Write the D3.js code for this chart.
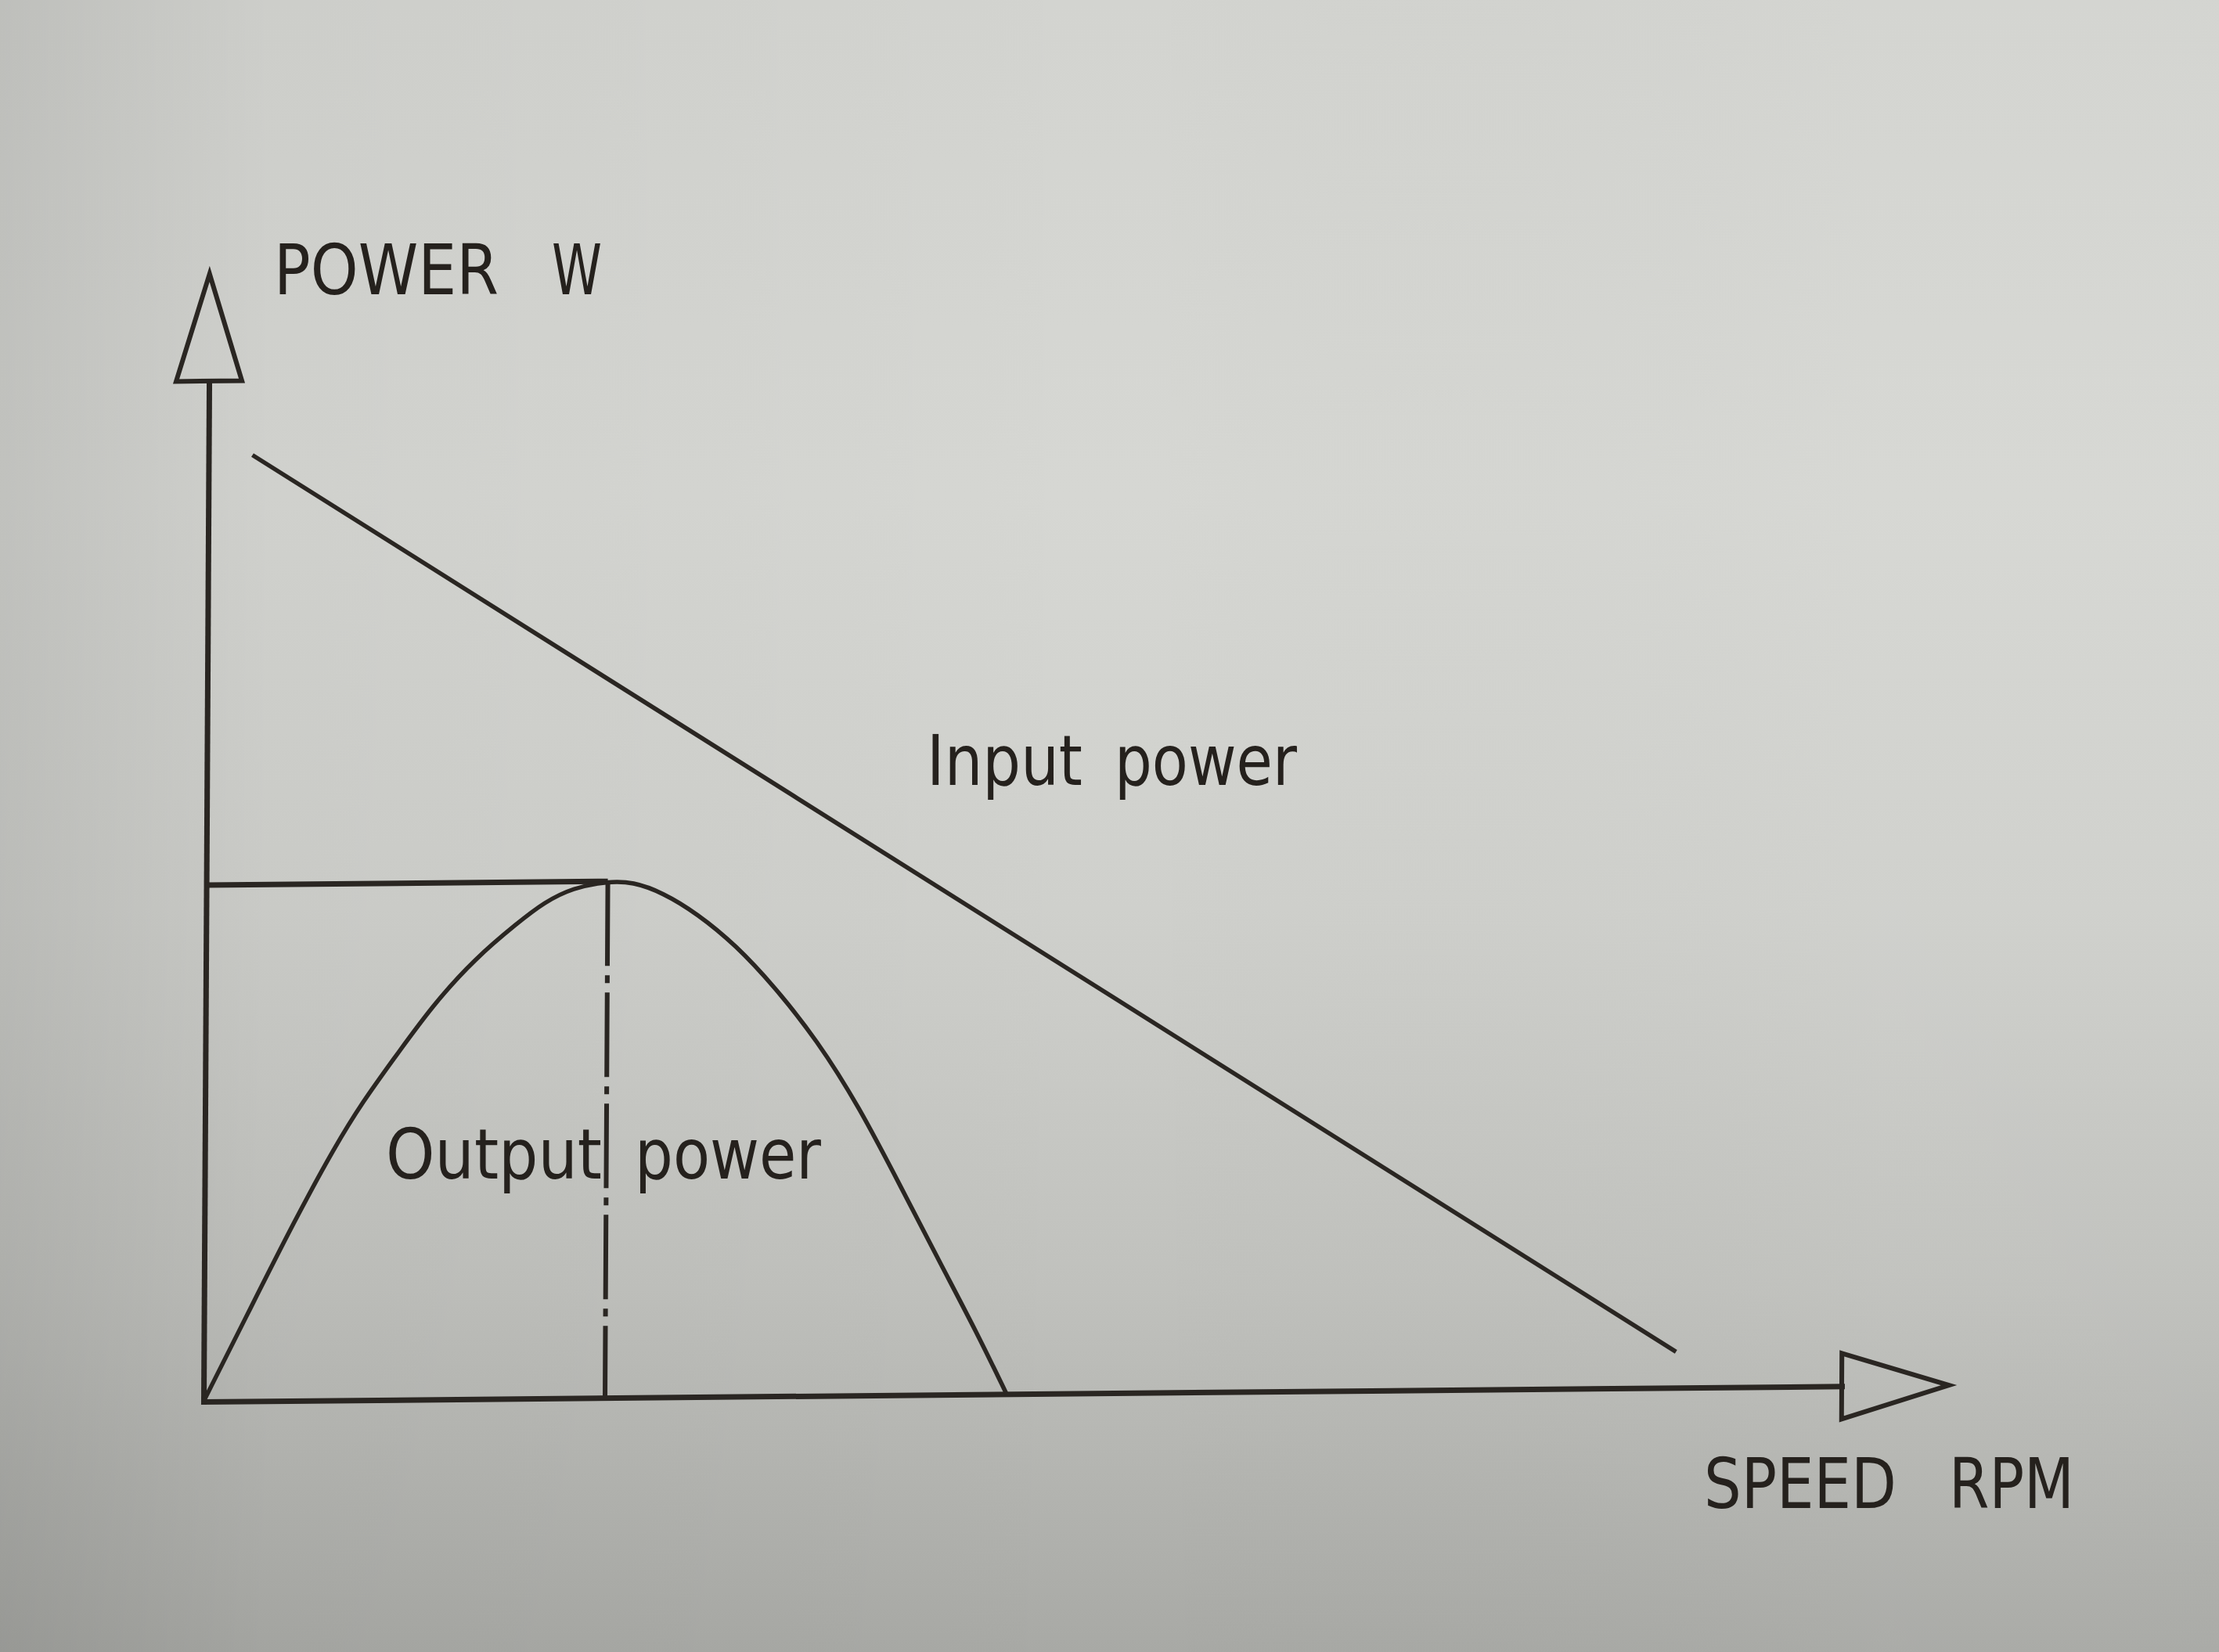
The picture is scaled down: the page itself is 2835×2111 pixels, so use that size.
<!DOCTYPE html>
<html>
<head>
<meta charset="utf-8">
<script src="https://cdn.jsdelivr.net/npm/d3@7"></script>
<style>
  html, body { margin: 0; padding: 0; overflow: hidden; background: #c8c9c5; }
  svg { display: block; }
</style>
</head>
<body>
<div id="chart"></div>
<script>
// ---------------- DATA (arbitrary units) ----------------
const outputSpeed = [0, 3.0, 5.7, 8.35, 10.1, 11.9, 14.55, 17.2, 19.9, 21.6, 23.4, 25.65, 27.25, 29.15, 31.35, 33.85, 36.35, 39.05, 41.75, 44.5, 47.15, 49.35, 51.3];
const outputPower = [0, 12.0, 22.8, 32.6, 38.2, 43.2, 50.5, 56.3, 60.8, 63.4, 65.2, 66.0, 65.9, 64.5, 61.8, 57.7, 52.3, 45.5, 37.0, 26.5, 16.3, 8.0, 0];
const inputSpeed  = [2.8, 94.05];
const inputPower  = [120.9, 4.6];
const peakSpeed   = [25.65];
const peakPower   = [66.0];
const axisEnds    = [104.65, 130.4];           // [speed axis end, power axis end]
const axisTitles  = ["POWER W", "SPEED RPM"];
const seriesNames = ["Input power", "Output power"];

// ---------------- SETUP ----------------
const W = 2835, H = 2111;
const ink = "#2a2622";
const svg = d3.select("#chart").append("svg").attr("width", W).attr("height", H);

// background (photographed paper)
const defs = svg.append("defs");
const gv = defs.append("linearGradient").attr("id", "bgv").attr("x1", 0).attr("y1", 0).attr("x2", 0).attr("y2", 1);
[[0, "#d3d4d0"], [0.3, "#d6d7d3"], [0.55, "#cfd0cc"], [0.78, "#c0c1bd"], [1, "#a8a9a5"]]
  .forEach(([o, c]) => gv.append("stop").attr("offset", o).attr("stop-color", c));
const gh = defs.append("linearGradient").attr("id", "bgh").attr("x1", 0).attr("y1", 0).attr("x2", 1).attr("y2", 0);
[[0, "#000", 0.10], [0.12, "#000", 0.03], [0.5, "#000", 0], [0.85, "#fff", 0.03], [1, "#fff", 0.02]]
  .forEach(([o, c, a]) => gh.append("stop").attr("offset", o).attr("stop-color", c).attr("stop-opacity", a));
svg.append("rect").attr("width", W).attr("height", H).attr("fill", "url(#bgv)");
svg.append("rect").attr("width", W).attr("height", H).attr("fill", "url(#bgh)");

// plot group: slight perspective of the photograph
const g = svg.append("g").attr("transform", "matrix(1,-0.0094,-0.0054,1,260,1791)");

const x = d3.scaleLinear().domain([0, 100]).range([0, 2000]);
const y = d3.scaleLinear().domain([0, 100]).range([0, -1000]);

// axes (domain lines only)
const xAxisScale = x.copy().domain([0, axisEnds[0]]).range([0, x(axisEnds[0])]);
const yAxisScale = y.copy().domain([0, axisEnds[1]]).range([0, y(axisEnds[1])]);
const axX = g.append("g").call(d3.axisBottom(xAxisScale).tickValues([]).tickSizeOuter(0));
const axY = g.append("g").call(d3.axisLeft(yAxisScale).tickValues([]).tickSizeOuter(0));
[axX, axY].forEach(a => {
  a.select(".domain").attr("stroke", ink).attr("stroke-width", 7).attr("stroke-linecap", "square");
  a.attr("font-size", null).attr("font-family", null);
});

// arrow heads (open triangles)
const arrowLen = 137, arrowHalf = 42;
g.append("path")
  .attr("d", `M${x(axisEnds[0])},${-arrowHalf}L${x(axisEnds[0]) + arrowLen},0L${x(axisEnds[0])},${arrowHalf}Z`)
  .attr("fill", "none").attr("stroke", ink).attr("stroke-width", 6).attr("stroke-linejoin", "miter");
g.append("path")
  .attr("d", `M${-arrowHalf},${y(axisEnds[1])}L0,${y(axisEnds[1]) - arrowLen}L${arrowHalf},${y(axisEnds[1])}Z`)
  .attr("fill", "none").attr("stroke", ink).attr("stroke-width", 6).attr("stroke-linejoin", "miter");

// input power line
const line = d3.line().x(d => x(d[0])).y(d => y(d[1]));
g.append("path")
  .attr("d", line(d3.zip(inputSpeed, inputPower)))
  .attr("fill", "none").attr("stroke", ink).attr("stroke-width", 5.5);

// output power curve
const curve = d3.line().x(d => x(d[0])).y(d => y(d[1])).curve(d3.curveBasis);
g.append("path")
  .attr("d", curve(d3.zip(outputSpeed, outputPower)))
  .attr("fill", "none").attr("stroke", ink).attr("stroke-width", 5.5);

// peak reference lines
g.append("path")
  .attr("d", line([[0, peakPower[0]], [peakSpeed[0], peakPower[0]]]))
  .attr("fill", "none").attr("stroke", ink).attr("stroke-width", 7);
g.append("path")
  .attr("d", line([[peakSpeed[0], peakPower[0]], [peakSpeed[0], 0]]))
  .attr("fill", "none").attr("stroke", ink).attr("stroke-width", 6)
  .attr("stroke-dasharray", "108 12 10 12");

// ---------------- TEXT ----------------
const font = "'DejaVu Sans', 'Liberation Sans', sans-serif";
function label(parts, baseline) {
  const t = svg.append("text").attr("y", baseline).attr("font-family", font)
    .attr("font-size", 89).attr("fill", "#25211d");
  parts.forEach(p => t.append("tspan").attr("x", p.x).attr("textLength", p.w)
    .attr("lengthAdjust", "spacingAndGlyphs").text(p.s));
}
const [pw, sp] = axisTitles;
const [inp, outp] = seriesNames;
label([{ s: pw.split(" ")[0], x: 350, w: 287 }, { s: pw.split(" ")[1], x: 705, w: 64 }], 376);
label([{ s: sp.split(" ")[0], x: 2177, w: 246 }, { s: sp.split(" ")[1], x: 2490, w: 160 }], 1927);
label([{ s: inp.split(" ")[0], x: 1184, w: 199 }, { s: inp.split(" ")[1], x: 1424, w: 233 }], 1003);
label([{ s: outp.split(" ")[0], x: 493, w: 276 }, { s: outp.split(" ")[1], x: 811, w: 238 }], 1506);
</script>
</body>
</html>
